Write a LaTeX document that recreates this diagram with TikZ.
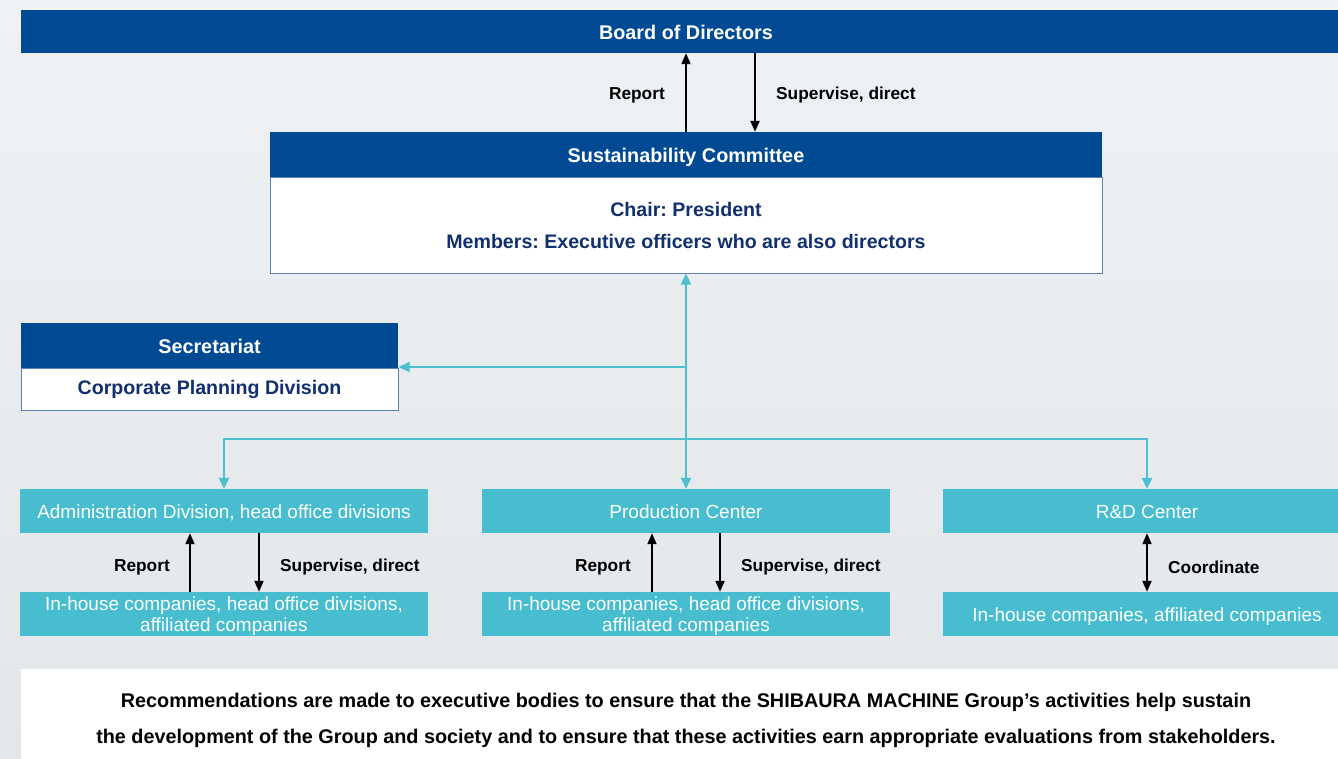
\documentclass[tikz,border=0pt]{standalone}
\usepackage{fontspec}
\setmainfont{Liberation Sans}
\usetikzlibrary{arrows.meta}
\definecolor{bgtop}{HTML}{EFF2F4}
\definecolor{bgbot}{HTML}{E2E6E9}
\definecolor{dblue}{HTML}{004A93}
\definecolor{navy}{HTML}{12306E}
\definecolor{teal}{HTML}{47BDCF}
\definecolor{tline}{HTML}{4BC0D0}
\definecolor{sborder}{HTML}{5A80B8}
\frenchspacing
\tikzset{
  bluehead/.style={fill=dblue, text=white, font=\bfseries\fontsize{19.8}{24}\selectfont, inner sep=0pt, anchor=center, text height=15pt, text depth=0pt},
  whitebody/.style={fill=white, draw=sborder, line width=1pt, text=navy, font=\bfseries\fontsize{19.6}{22}\selectfont, inner sep=0pt, align=center},
  tealbase/.style={fill=teal, text=white, font=\fontsize{19}{21}\selectfont, inner sep=0pt, minimum width=408pt, minimum height=44pt, align=center},
  tealone/.style={tealbase, text height=14pt, text depth=0pt},
  tealtwo/.style={tealbase, text depth=0pt},
  lbl/.style={text=black, font=\bfseries\fontsize{17.3}{20}\selectfont, inner sep=0pt},
  blk/.style={draw=black, line width=2pt, -{Triangle[length=11pt,width=9pt]}},
  blkboth/.style={draw=black, line width=2pt, {Triangle[length=11pt,width=9pt]}-{Triangle[length=11pt,width=9pt]}},
  tarr/.style={draw=tline, line width=2.2pt, -{Triangle[length=11pt,width=10pt]}},
  tboth/.style={draw=tline, line width=2.2pt, {Triangle[length=11pt,width=10pt]}-{Triangle[length=11pt,width=10pt]}},
}
\begin{document}
\begin{tikzpicture}[x=1pt,y=-1pt]
\useasboundingbox (0,0) rectangle (1338,758);
\clip (0,0) rectangle (1338,758);
\shade[top color=bgtop, bottom color=bgbot] (0,0) rectangle (1338,758);

% Board
\node[bluehead, minimum width=1330pt, minimum height=43pt] (bod) at (686,31.5) {Board of Directors};

% Sustainability committee
\node[whitebody, minimum width=832pt, minimum height=96pt] (scb) at (686,225) {Chair: President\\[10pt]Members: Executive officers who are also directors};
\node[bluehead, minimum width=832pt, minimum height=45pt] (sch) at (686,154.5) {Sustainability Committee};

\draw[blk] (sch.north) -- (bod.south -| sch.north);
\draw[blk] ([xshift=69pt]bod.south -| sch.north) -- ([xshift=69pt]sch.north);
\node[lbl, anchor=east] (l1) at (665,95) {Report};
\node[lbl, anchor=west] (l2) at (776,95) {Supervise, direct};

% Secretariat
\node[whitebody, minimum width=377pt, minimum height=42pt] (secb) at (209.5,389) {Corporate Planning Division};
\node[bluehead, minimum width=377pt, minimum height=45pt] (sech) at (209.5,345.5) {Secretariat};

% Teal boxes
\node[tealone] (adm) at (224,511) {Administration Division, head office divisions};
\node[tealone] (prod) at (686,511) {Production Center};
\node[tealone] (rd) at (1147,511) {R\&D Center};
\node[tealtwo] (admlow) at (224,614) {In-house companies, head office divisions,\\affiliated companies};
\node[tealtwo] (prodlow) at (686,614) {In-house companies, head office divisions,\\affiliated companies};
\node[tealone] (rdlow) at (1147,614) {In-house companies, affiliated companies};

% Teal connectors
\coordinate (jsec) at (686,367);
\coordinate (jmid) at (686,439);
\draw[tboth] (scb.south) -- (prod.north);
\draw[tarr] (jsec) -- (jsec -| secb.east);
\draw[tarr] (jmid) -| (adm.north);
\draw[tarr] (jmid) -| (rd.north);

% Black arrows lower
\draw[blk] ([xshift=-34pt]admlow.north) -- ([xshift=-34pt]adm.south);
\draw[blk] ([xshift=35pt]adm.south) -- ([xshift=35pt]admlow.north);
\node[lbl, anchor=east] (l3) at (170,567) {Report};
\node[lbl, anchor=west] (l4) at (280,567) {Supervise, direct};

\draw[blk] ([xshift=-34pt]prodlow.north) -- ([xshift=-34pt]prod.south);
\draw[blk] ([xshift=34pt]prod.south) -- ([xshift=34pt]prodlow.north);
\node[lbl, anchor=east] (l5) at (631,567) {Report};
\node[lbl, anchor=west] (l6) at (741,567) {Supervise, direct};

\draw[blkboth] (rd.south) -- (rdlow.north);
\node[lbl, anchor=west] (l7) at (1168,567) {Coordinate};

% Bottom note
\node[fill=white, minimum width=1330pt, minimum height=102pt, inner sep=0pt, align=center, font=\bfseries\fontsize{19.8}{36}\selectfont] (note) at (686,720) {Recommendations are made to executive bodies to ensure that the SHIBAURA MACHINE Group’s activities help sustain\\the development of the Group and society and to ensure that these activities earn appropriate evaluations from stakeholders.};
\end{tikzpicture}
\end{document}
